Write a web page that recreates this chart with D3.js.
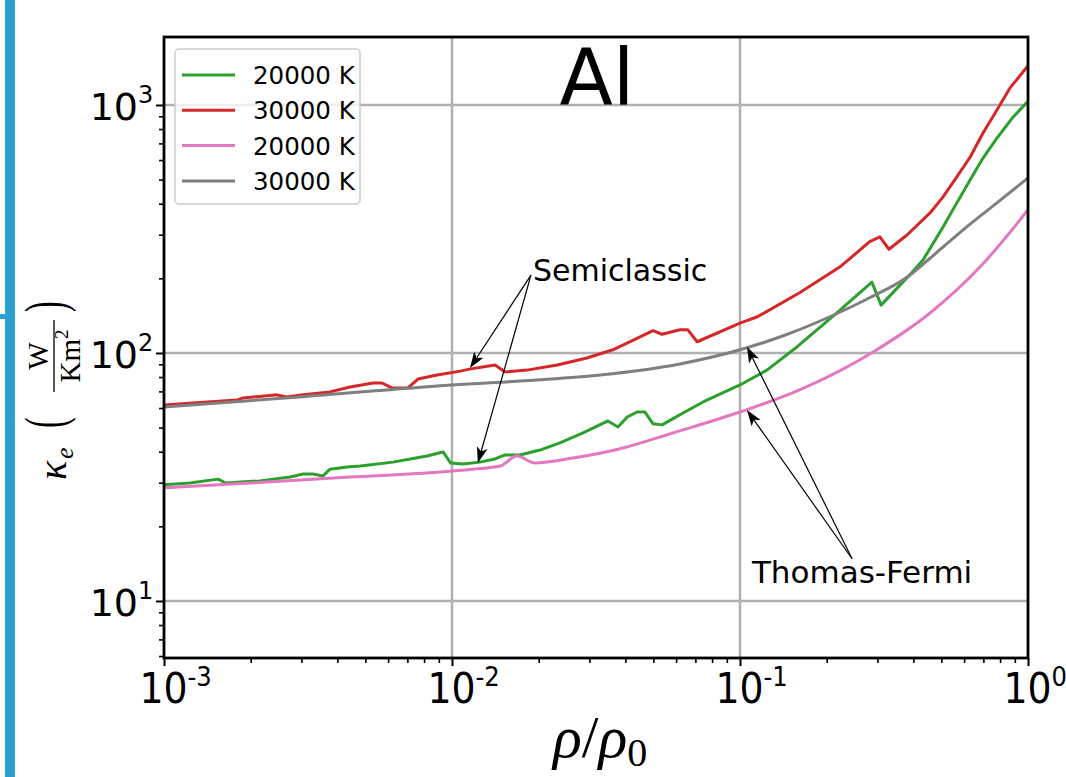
<!DOCTYPE html>
<html>
<head>
<meta charset="utf-8">
<script src="https://d3js.org/d3.v7.min.js"></script>
<style>
  body { margin: 0; background: #fff; }
  text { font-family: "DejaVu Sans", sans-serif; }
  .math { font-family: "Liberation Serif", "DejaVu Serif", serif; }
</style>
</head>
<body>
<svg id="chart" width="1066" height="777"></svg>
<script>
// semiclassic, 20000 K
var semiRho20 = [0.001, 0.00123, 0.00154, 0.00164, 0.00215, 0.00274, 0.00304, 0.00329, 0.00356, 0.00377,
  0.00432, 0.00480, 0.00624, 0.00818, 0.00931, 0.0099, 0.0109, 0.0125, 0.0141, 0.0153,
  0.0172, 0.0202, 0.0237, 0.0285, 0.0348, 0.0377, 0.0406, 0.0439, 0.0468, 0.0499,
  0.0536, 0.0634, 0.0767, 0.1, 0.124, 0.158, 0.217, 0.287, 0.309, 0.389,
  0.432, 0.507, 0.566, 0.630, 0.698, 0.780, 0.887, 1.0];
var semiK20 = [29.4, 29.9, 31.0, 29.9, 30.5, 31.6, 32.5, 32.5, 31.9, 34.0,
  34.7, 35.0, 36.3, 38.4, 39.9, 36.0, 35.7, 36.3, 37.4, 38.8,
  38.8, 40.6, 43.4, 47.6, 53.2, 50.3, 55.2, 57.8, 57.8, 51.8,
  51.3, 57.3, 64.6, 74.3, 85.3, 106, 145, 193, 156, 207,
  237, 322, 403, 499, 611, 735, 893, 1035];

// semiclassic, 30000 K
var semiRho30 = [0.001, 0.00126, 0.00179, 0.00188, 0.00247, 0.00267, 0.00304, 0.00377, 0.00443, 0.00532,
  0.00571, 0.00619, 0.00703, 0.00762, 0.00887, 0.0107, 0.0115, 0.0141, 0.0153, 0.0182,
  0.0232, 0.0294, 0.0362, 0.0499, 0.0536, 0.0619, 0.0659, 0.0710, 0.100, 0.115,
  0.161, 0.222, 0.282, 0.306, 0.329, 0.380, 0.457, 0.507, 0.566, 0.630,
  0.698, 0.780, 0.866, 1.0];
var semiK30 = [61.7, 62.8, 64.6, 65.9, 67.8, 66.5, 67.8, 69.7, 72.9, 75.7,
  75.7, 72.3, 72.3, 78.5, 81.5, 84.5, 86.1, 89.5, 83.8, 85.3,
  89.5, 95.5, 103, 123, 119, 124, 124, 111, 132, 140,
  175, 222, 281, 294, 262, 299, 367, 426, 513, 617,
  771, 955, 1172, 1440];

// Thomas-Fermi, 20000 K
var tfRho20 = [0.001, 0.00199, 0.00443, 0.00908, 0.0118, 0.0147, 0.0168, 0.0194, 0.0263, 0.0393,
  0.0585, 0.1, 0.161, 0.290, 0.457, 0.681, 1.0];
var tfK20 = [28.6, 29.9, 31.6, 33.1, 34.0, 35.0, 38.4, 36.0, 37.7, 41.4,
  47.6, 57.8, 71.0, 101, 145, 222, 378];

// Thomas-Fermi, 30000 K
var tfRho30 = [0.001, 0.00296, 0.01, 0.0197, 0.0327, 0.0619, 0.1, 0.146, 0.205, 0.282,
  0.380, 0.457, 0.594, 0.780, 1.0];
var tfK30 = [60.5, 66.5, 74.3, 77.8, 81.5, 90.3, 103, 119, 140, 167,
  202, 241, 313, 403, 508];

var legendLabels = ["20000 K", "30000 K", "20000 K", "30000 K"];
var colors = ["#2ca02c", "#d62728", "#e377c2", "#7f7f7f"];

var xMajor = [1e-3, 1e-2, 1e-1, 1];
var xExp = ["-3", "-2", "-1", "0"];
var yMajor = [10, 100, 1000];
var yExp = ["1", "2", "3"];

// annotations (data coords)
var semiText = [0.0191, 195];
var semiFrom = [0.0188, 206];
var semiTips = [[0.01155, 87], [0.0123, 36]];
var tfText = [0.110, 11.8];
var tfFrom = [0.245, 14.8];
var tfTips = [[0.1057, 106], [0.1057, 58.9]];

var svg = d3.select("#chart");
var L = 164, R = 1028, T = 37, B = 658;

var x = d3.scaleLog().domain([1e-3, 1]).range([L, R]);
var y = d3.scaleLog().domain([5.89, 1880]).range([B, T]);

// left blue bar
svg.append("rect").attr("x", 5).attr("y", 0).attr("width", 10).attr("height", 777).attr("fill", "#2e9fd2");
svg.append("rect").attr("x", 0).attr("y", 314).attr("width", 6).attr("height", 5).attr("fill", "#2e9fd2");

var xMinor = [], yMinor = [];
[1e-3, 1e-2, 1e-1].forEach(function (d) { for (var k = 2; k <= 9; k++) xMinor.push(d * k); });
[1, 10, 100].forEach(function (d) { for (var k = 2; k <= 9; k++) { var v = d * k; if (v >= 5.89 && v <= 1880) yMinor.push(v); } });

// grid
var grid = svg.append("g").attr("stroke", "#b0b0b0").attr("stroke-width", 2.5);
xMajor.slice(1, 3).forEach(function (d) {
  grid.append("line").attr("x1", x(d)).attr("x2", x(d)).attr("y1", T).attr("y2", B);
});
yMajor.forEach(function (d) {
  grid.append("line").attr("x1", L).attr("x2", R).attr("y1", y(d)).attr("y2", y(d));
});

// axes ticks
function styleAxis(g, w) {
  g.select(".domain").remove();
  g.selectAll(".tick line").attr("stroke", "#000").attr("stroke-width", w);
}
svg.append("g").attr("transform", "translate(0," + B + ")")
  .call(d3.axisBottom(x).tickValues(xMinor).tickSize(5).tickFormat(function () { return ""; }))
  .call(styleAxis, 1.6);
var gx = svg.append("g").attr("transform", "translate(0," + B + ")")
  .call(d3.axisBottom(x).tickValues(xMajor).tickSize(8).tickFormat(function () { return ""; }))
  .call(styleAxis, 2);
svg.append("g").attr("transform", "translate(" + L + ",0)")
  .call(d3.axisLeft(y).tickValues(yMinor).tickSize(5).tickFormat(function () { return ""; }))
  .call(styleAxis, 1.6);
var gy = svg.append("g").attr("transform", "translate(" + L + ",0)")
  .call(d3.axisLeft(y).tickValues(yMajor).tickSize(8).tickFormat(function () { return ""; }))
  .call(styleAxis, 2);

gx.selectAll(".tick").each(function (d, i) {
  var t = d3.select(this).append("text").attr("fill", "#000").attr("text-anchor", "start")
    .attr("transform", "translate(-25,45) scale(0.9,1)").attr("font-size", 42);
  t.append("tspan").text("10");
  t.append("tspan").attr("font-size", 27).attr("dy", -17).text(xExp[i]);
});
gy.selectAll(".tick").each(function (d, i) {
  d3.select(this).append("text").attr("fill", "#000").attr("text-anchor", "end")
    .attr("x", -26).attr("y", 15).attr("font-size", 38).text("10");
  d3.select(this).append("text").attr("fill", "#000").attr("text-anchor", "start")
    .attr("x", -26).attr("y", -2).attr("font-size", 24).text(yExp[i]);
});

// curves
var series = [
  { rho: semiRho20, k: semiK20, curve: d3.curveLinear },
  { rho: semiRho30, k: semiK30, curve: d3.curveLinear },
  { rho: tfRho20, k: tfK20, curve: d3.curveMonotoneX },
  { rho: tfRho30, k: tfK30, curve: d3.curveMonotoneX }
];
var plot = svg.append("g");
series.forEach(function (s, i) {
  var pts = s.rho.map(function (r, j) { return [r, s.k[j]]; });
  plot.append("path").datum(pts)
    .attr("fill", "none").attr("stroke", colors[i]).attr("stroke-width", 3)
    .attr("stroke-linejoin", "round")
    .attr("d", d3.line().curve(s.curve).x(function (d) { return x(d[0]); }).y(function (d) { return y(d[1]); }));
});

// frame
svg.append("rect").attr("x", L).attr("y", T).attr("width", R - L).attr("height", B - T)
  .attr("fill", "none").attr("stroke", "#000").attr("stroke-width", 2.8);

// annotations
function arrow(from, tip) {
  var x0 = x(from[0]), y0 = y(from[1]), x1 = x(tip[0]), y1 = y(tip[1]);
  var a = Math.atan2(y1 - y0, x1 - x0), len = 16, hw = 5.5, notch = 4;
  var bx = x1 - len * Math.cos(a), by = y1 - len * Math.sin(a);
  var nx = x1 - (len - notch) * Math.cos(a), ny = y1 - (len - notch) * Math.sin(a);
  svg.append("line").attr("x1", x0).attr("y1", y0).attr("x2", nx).attr("y2", ny)
    .attr("stroke", "#000").attr("stroke-width", 1.2);
  var p = [[x1, y1], [bx - hw * Math.sin(a), by + hw * Math.cos(a)], [nx, ny], [bx + hw * Math.sin(a), by - hw * Math.cos(a)]];
  svg.append("path").attr("d", "M" + p.join("L") + "Z").attr("fill", "#000");
}
semiTips.forEach(function (t) { arrow(semiFrom, t); });
tfTips.forEach(function (t) { arrow(tfFrom, t); });
svg.append("text").attr("x", x(semiText[0])).attr("y", y(semiText[1])).attr("font-size", 30).text("Semiclassic");
svg.append("text").attr("x", x(tfText[0])).attr("y", y(tfText[1])).attr("font-size", 31).text("Thomas-Fermi");

// title
svg.append("text").attr("x", 597).attr("y", 105).attr("text-anchor", "middle").attr("font-size", 78).text("Al");

// legend
var lg = svg.append("g").attr("transform", "translate(175,49)");
lg.append("rect").attr("width", 185).attr("height", 155).attr("rx", 4)
  .attr("fill", "#fff").attr("fill-opacity", 0.8).attr("stroke", "#cccccc").attr("stroke-width", 1.5);
legendLabels.forEach(function (lab, i) {
  var cy = 26 + i * 35.3;
  lg.append("line").attr("x1", 7).attr("x2", 60).attr("y1", cy).attr("y2", cy)
    .attr("stroke", colors[i]).attr("stroke-width", 3);
  lg.append("text").attr("x", 78).attr("y", cy + 9).attr("font-size", 24.5).text(lab);
});

// y label
var yl = svg.append("g").attr("transform", "translate(0,380) rotate(-90)");
yl.append("text").attr("class", "math").attr("x", -100).attr("y", 66).attr("font-size", 40).attr("font-style", "italic").text("κ");
yl.append("text").attr("class", "math").attr("x", -79).attr("y", 73).attr("font-size", 26).attr("font-style", "italic").text("e");
yl.append("text").attr("class", "math").attr("transform", "translate(-48,64) scale(1,1.75)").attr("font-size", 32).text("(");
yl.append("text").attr("class", "math").attr("x", 24).attr("y", 48).attr("text-anchor", "middle").attr("font-size", 29).text("W");
yl.append("line").attr("x1", -12).attr("x2", 60).attr("y1", 54).attr("y2", 54).attr("stroke", "#000").attr("stroke-width", 1.3);
var km = yl.append("text").attr("class", "math").attr("x", 24).attr("y", 80).attr("text-anchor", "middle").attr("font-size", 29);
km.append("tspan").text("Km");
km.append("tspan").attr("font-size", 19).attr("dy", -12).text("2");
yl.append("text").attr("class", "math").attr("transform", "translate(68,64) scale(1,1.75)").attr("font-size", 32).text(")");

// x label
var xl = svg.append("text").attr("class", "math").attr("x", 553).attr("y", 757).attr("font-size", 60);
xl.append("tspan").attr("font-style", "italic").text("ρ");
xl.append("tspan").text("/");
xl.append("tspan").attr("font-style", "italic").text("ρ");
xl.append("tspan").attr("font-size", 40).attr("dy", 9).text("0");
</script>
</body>
</html>
